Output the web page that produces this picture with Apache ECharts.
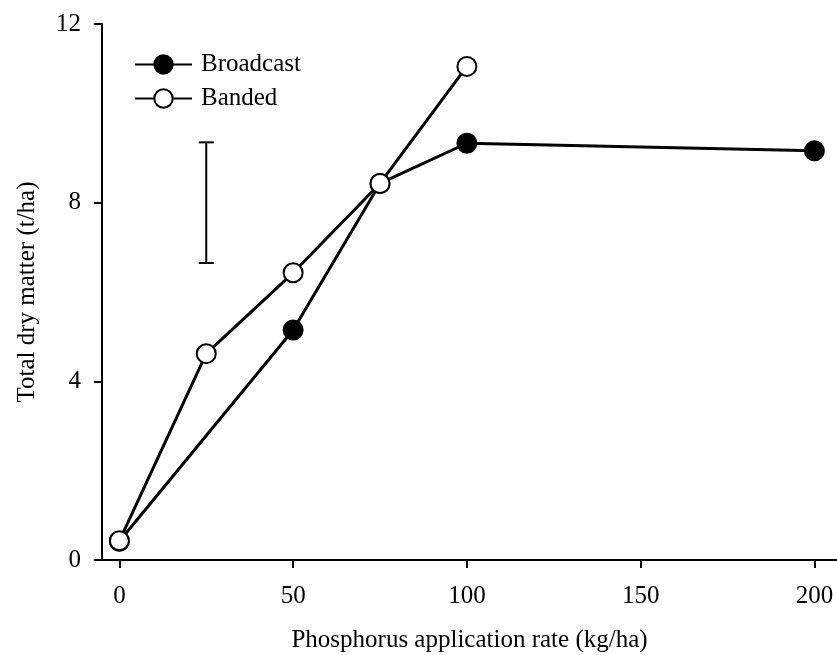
<!DOCTYPE html>
<html>
<head>
<meta charset="utf-8">
<script src="https://cdn.jsdelivr.net/npm/echarts@6/dist/echarts.min.js"></script>
<style>
  html, body { margin: 0; padding: 0; background: #fff; }
  #chart { width: 837px; height: 655px; }
</style>
</head>
<body>
<div id="chart"></div>
<script>
// values
var broadcastX = [0, 50, 75, 100, 200];
var broadcastY = [0.42, 5.15, 8.43, 9.33, 9.16];
var bandedX = [0, 25, 50, 75, 100];
var bandedY = [0.43, 4.62, 6.43, 8.43, 11.05];
// LSD bar
var errX = 25;
var errLow = 6.65;
var errHigh = 9.35;
var xTicks = [0, 50, 100, 150, 200];

var font = 'Liberation Serif';
var fs = 25;

function pairs(xs, ys) {
	return xs.map(function (x, i) { return [x, ys[i]]; });
}

var mychart = echarts.init(document.getElementById('chart'));
mychart.setOption({
	animation: false,
	textStyle: { fontFamily: font, color: '#000' },
	legend: {
		orient: 'vertical',
		left: 129,
		top: 47,
		itemWidth: 57,
		itemHeight: 23,
		itemGap: 9,
		textStyle: { fontFamily: font, fontSize: fs, color: '#000', padding: [0, 0, 0, 4] },
		data: ['Broadcast', 'Banded']
	},
	grid: {
		left: 102,
		right: 0,
		top: 24,
		bottom: 95,
		outerBoundsMode: 'none'
	},
	xAxis: {
		type: 'value',
		min: -5,
		max: 206.5,
		name: 'Phosphorus application rate (kg/ha)',
		nameLocation: 'middle',
		nameGap: 68,
		nameTextStyle: { fontFamily: font, fontSize: fs, color: '#000' },
		axisLine: { onZero: false, lineStyle: { color: '#000', width: 2 } },
		axisTick: { show: true, length: 8, lineStyle: { color: '#000', width: 2 }, customValues: xTicks },
		axisLabel: { fontFamily: font, fontSize: fs, color: '#000', margin: 24, customValues: xTicks },
		splitLine: { show: false }
	},
	yAxis: {
		type: 'value',
		min: 0,
		max: 12,
		interval: 4,
		name: 'Total dry matter (t/ha)',
		nameLocation: 'middle',
		nameGap: 62,
		nameTextStyle: { fontFamily: font, fontSize: fs, color: '#000' },
		axisLine: { show: true, onZero: false, lineStyle: { color: '#000', width: 2 } },
		axisTick: { show: true, length: 8, lineStyle: { color: '#000', width: 2 } },
		axisLabel: { fontFamily: font, fontSize: fs, color: '#000', margin: 21 },
		splitLine: { show: false }
	},
	series: [
		{
			name: 'LSD',
			type: 'custom',
			silent: true,
			renderItem: function (params, api) {
				var top = api.coord([api.value(0), api.value(2)]);
				var bot = api.coord([api.value(0), api.value(1)]);
				var hw = 7.5;
				var st = { stroke: '#000', lineWidth: 2 };
				return {
					type: 'group',
					children: [
						{ type: 'line', shape: { x1: top[0], y1: top[1], x2: bot[0], y2: bot[1] }, style: st },
						{ type: 'line', shape: { x1: top[0] - hw, y1: top[1], x2: top[0] + hw, y2: top[1] }, style: st },
						{ type: 'line', shape: { x1: bot[0] - hw, y1: bot[1], x2: bot[0] + hw, y2: bot[1] }, style: st }
					]
				};
			},
			data: [[errX, errLow, errHigh]]
		},
		{
			name: 'Broadcast',
			type: 'line',
			symbol: 'circle',
			symbolSize: 19,
			lineStyle: { color: '#000', width: 3 },
			itemStyle: { color: '#000', borderColor: '#000', borderWidth: 2 },
			data: pairs(broadcastX, broadcastY)
		},
		{
			name: 'Banded',
			type: 'line',
			symbol: 'circle',
			symbolSize: 19,
			lineStyle: { color: '#000', width: 3 },
			itemStyle: { color: '#fff', borderColor: '#000', borderWidth: 2 },
			data: pairs(bandedX, bandedY)
		}
	]
});
</script>
</body>
</html>
